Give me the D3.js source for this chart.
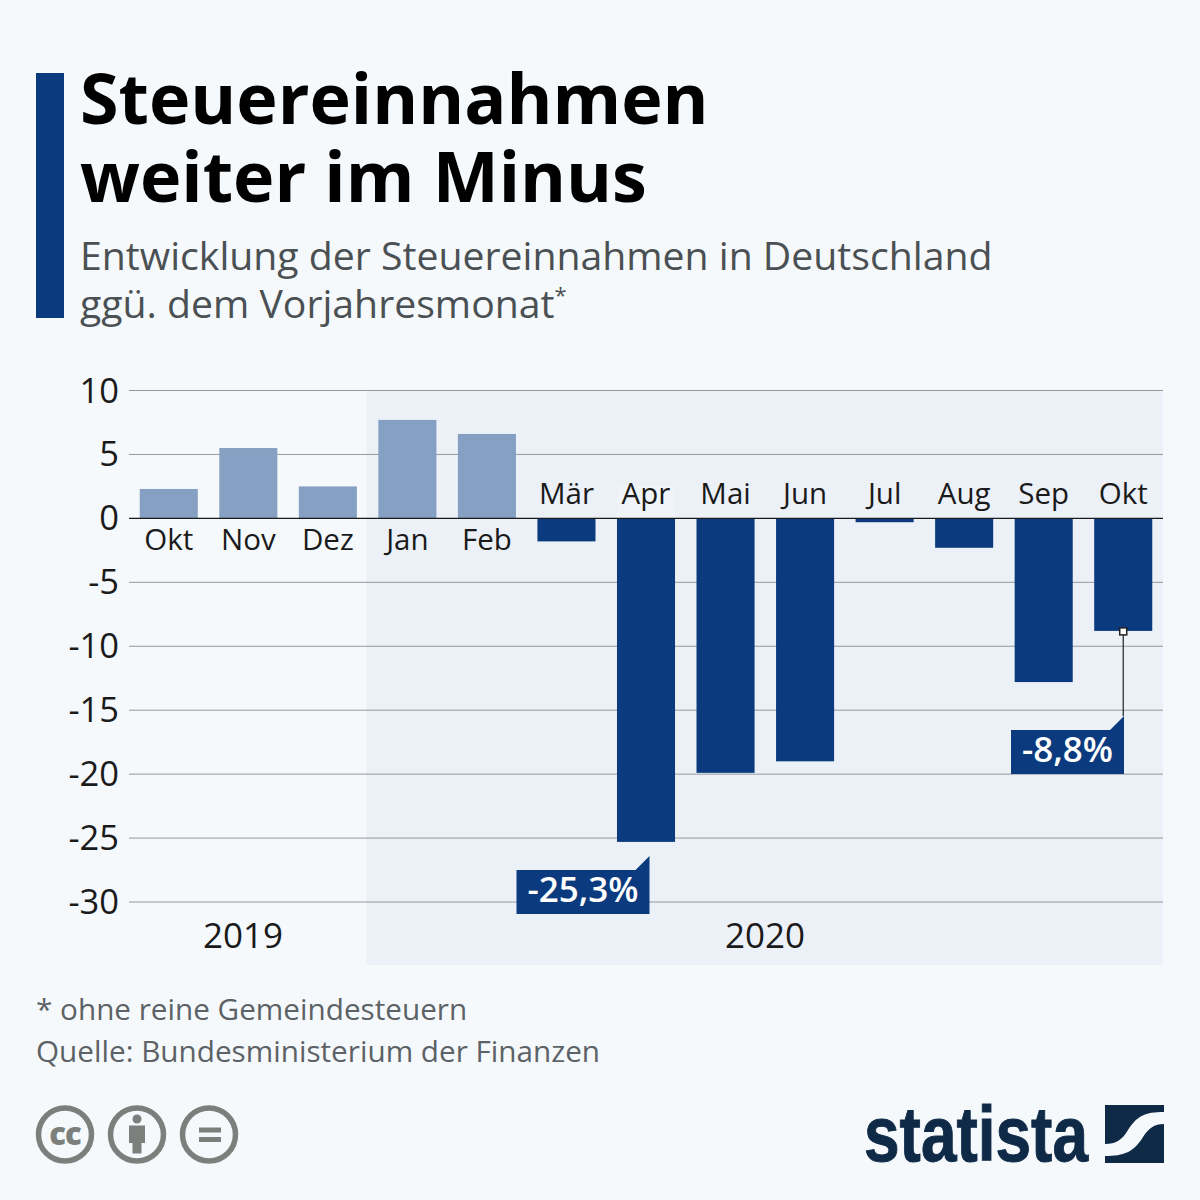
<!DOCTYPE html>
<html>
<head>
<meta charset="utf-8">
<script src="https://cdn.jsdelivr.net/npm/d3@7"></script>
<style>
  html, body { margin: 0; padding: 0; background: #f5f9fc; }
  svg { display: block; font-family: "Open Sans", sans-serif; }
</style>
</head>
<body>
<svg id="chart" width="1200" height="1200"></svg>
<script>
// data
const months = ["Okt", "Nov", "Dez", "Jan", "Feb", "Mär", "Apr", "Mai", "Jun", "Jul", "Aug", "Sep", "Okt"];
const monthKeys = ["2019-10", "2019-11", "2019-12", "2020-01", "2020-02", "2020-03", "2020-04", "2020-05", "2020-06", "2020-07", "2020-08", "2020-09", "2020-10"];
const values = [2.3, 5.5, 2.5, 7.7, 6.6, -1.8, -25.3, -19.9, -19, -0.3, -2.3, -12.8, -8.8];
const yTicks = [10, 5, 0, -5, -10, -15, -20, -25, -30];
const titleLines = ["Steuereinnahmen", "weiter im Minus"];
const subtitleLines = ["Entwicklung der Steuereinnahmen in Deutschland", "ggü. dem Vorjahresmonat"];
const notes = ["* ohne reine Gemeindesteuern", "Quelle: Bundesministerium der Finanzen"];

const navy = "#0b3b7e";
const lightBlue = "#86a0c3";
const dark = "#000000";
const grey = "#4a5053";

const svg = d3.select("#chart");

const x = d3.scaleBand().domain(monthKeys).range([129, 1163]).paddingInner(0.27).paddingOuter(0.135);
const y = d3.scaleLinear().domain([-30, 10]).range([902, 390.5]);

// header
svg.append("rect").attr("x", 36).attr("y", 73).attr("width", 28).attr("height", 245).attr("fill", navy);

svg.selectAll("text.title").data(titleLines).enter().append("text")
  .attr("class", "title")
  .attr("x", 80)
  .attr("y", (d, i) => 124 + i * 78)
  .attr("font-size", 70)
  .attr("font-weight", 700)
  .attr("fill", dark)
  .text(d => d);

const subtitle = svg.selectAll("text.subtitle").data(subtitleLines).enter().append("text")
  .attr("class", "subtitle")
  .attr("x", 80)
  .attr("y", (d, i) => 270 + i * 48)
  .attr("font-size", 39.2)
  .attr("fill", grey)
  .text(d => d);

// footnote mark sits on the second subtitle line
subtitle.filter((d, i) => i === 1).append("tspan")
  .attr("dy", -15)
  .attr("font-size", 22)
  .text("*");

// 2020 background
const split = x("2020-01") - x.step() * 0.135 - 1;
svg.append("rect")
  .attr("x", split).attr("y", 390)
  .attr("width", 1163 - split).attr("height", 575)
  .attr("fill", "#ecf1f8");

// grid
svg.selectAll("line.grid").data(yTicks.filter(d => d !== 0)).enter().append("line")
  .attr("class", "grid")
  .attr("x1", 129).attr("x2", 1163)
  .attr("y1", d => y(d)).attr("y2", d => y(d))
  .attr("stroke", "#93989c")
  .attr("stroke-width", 1);

// y labels
svg.selectAll("text.ytick").data(yTicks).enter().append("text")
  .attr("class", "ytick")
  .attr("x", 119)
  .attr("y", d => y(d) + 12)
  .attr("text-anchor", "end")
  .attr("font-size", 34.5)
  .attr("fill", "#1a1a1a")
  .text(d => d);

// month label backing behind Apr
svg.append("rect")
  .attr("x", x("2020-04")).attr("y", y(5) + 32)
  .attr("width", x.bandwidth()).attr("height", y(0) - y(5) - 32)
  .attr("fill", "#f0f4f9");

// bars
svg.selectAll("rect.bar").data(values).enter().append("rect")
  .attr("class", "bar")
  .attr("x", (d, i) => x(monthKeys[i]))
  .attr("y", d => y(Math.max(d, 0)))
  .attr("width", x.bandwidth())
  .attr("height", d => Math.abs(y(d) - y(0)))
  .attr("fill", (d, i) => i < 5 ? lightBlue : navy);

// zero line
svg.append("line")
  .attr("x1", 129).attr("x2", 1163)
  .attr("y1", y(0)).attr("y2", y(0))
  .attr("stroke", "#1a1a1a")
  .attr("stroke-width", 1.2);

// month labels
svg.selectAll("text.month").data(months).enter().append("text")
  .attr("class", "month")
  .attr("x", (d, i) => x(monthKeys[i]) + x.bandwidth() / 2)
  .attr("y", (d, i) => values[i] > 0 ? y(0) + 32 : y(0) - 14)
  .attr("text-anchor", "middle")
  .attr("font-size", 29.5)
  .attr("fill", "#1a1a1a")
  .text(d => d);

// year labels
svg.append("text").attr("x", 243).attr("y", 948).attr("text-anchor", "middle")
  .attr("font-size", 35).attr("fill", "#1a1a1a").text("2019");
svg.append("text").attr("x", 765).attr("y", 948).attr("text-anchor", "middle")
  .attr("font-size", 35).attr("fill", "#1a1a1a").text("2020");

// callouts
function callout(left, right, top, bottom, label) {
  svg.append("path")
    .attr("d", `M${left},${top}H${right - 14}L${right},${top - 14}V${bottom}H${left}Z`)
    .attr("fill", navy);
  svg.append("text")
    .attr("x", (left + right) / 2).attr("y", bottom - 12)
    .attr("text-anchor", "middle")
    .attr("font-size", 35)
    .attr("font-weight", 600)
    .attr("fill", "#ffffff")
    .text(label);
}
callout(516.5, 649.5, 870, 914, "-25,3%");

const okX = x("2020-10") + x.bandwidth() / 2;
svg.append("line")
  .attr("x1", okX).attr("x2", okX)
  .attr("y1", y(-8.8)).attr("y2", 716)
  .attr("stroke", "#222")
  .attr("stroke-width", 1.2);
callout(1011, 1124, 730, 774, "-8,8%");
svg.append("rect")
  .attr("x", okX - 3.5).attr("y", y(-8.8) - 3)
  .attr("width", 7).attr("height", 7)
  .attr("fill", "#fff")
  .attr("stroke", "#222")
  .attr("stroke-width", 1.5);

// footnotes
svg.selectAll("text.note").data(notes).enter().append("text")
  .attr("class", "note")
  .attr("x", 36)
  .attr("y", (d, i) => 1020 + i * 42)
  .attr("font-size", 29.7)
  .attr("fill", "#5c6265")
  .text(d => d);

// cc icons
const ccGrey = "#7c807d";
[65, 137, 209].forEach(cx => {
  svg.append("circle").attr("cx", cx).attr("cy", 1134.5).attr("r", 26.5)
    .attr("fill", "none").attr("stroke", ccGrey).attr("stroke-width", 5.5);
});
svg.append("text").attr("x", 65).attr("y", 1145).attr("text-anchor", "middle")
  .attr("font-size", 31).attr("font-weight", 800).attr("letter-spacing", -1).attr("fill", ccGrey).text("cc");
svg.append("circle").attr("cx", 137).attr("cy", 1119).attr("r", 4.5).attr("fill", ccGrey);
svg.append("path").attr("fill", ccGrey)
  .attr("d", "M129,1125.5H145V1143H141.5V1153.5H132.5V1143H129Z");
svg.append("rect").attr("x", 199).attr("y", 1127.5).attr("width", 22).attr("height", 5).attr("fill", ccGrey);
svg.append("rect").attr("x", 199).attr("y", 1137).attr("width", 22).attr("height", 5).attr("fill", ccGrey);

// statista logo
const logoColor = "#0f2a47";
svg.append("text")
  .attr("x", 864).attr("y", 1161)
  .attr("font-family", "'Liberation Sans Narrow', 'Liberation Sans', sans-serif")
  .attr("font-size", 78)
  .attr("font-weight", 700)
  .attr("fill", logoColor)
  .attr("stroke", logoColor)
  .attr("stroke-width", 1)
  .attr("textLength", 224)
  .attr("lengthAdjust", "spacingAndGlyphs")
  .text("statista");
svg.append("path").attr("fill", logoColor)
  .attr("d", "M1105,1105H1164V1112C1145,1112 1137,1116 1128,1130C1122,1140 1116,1144 1105,1144Z");
svg.append("path").attr("fill", logoColor)
  .attr("d", "M1164,1124V1163H1105V1156C1124,1156 1134,1152 1143,1137C1149,1128 1154,1124 1164,1124Z");
</script>
</body>
</html>
